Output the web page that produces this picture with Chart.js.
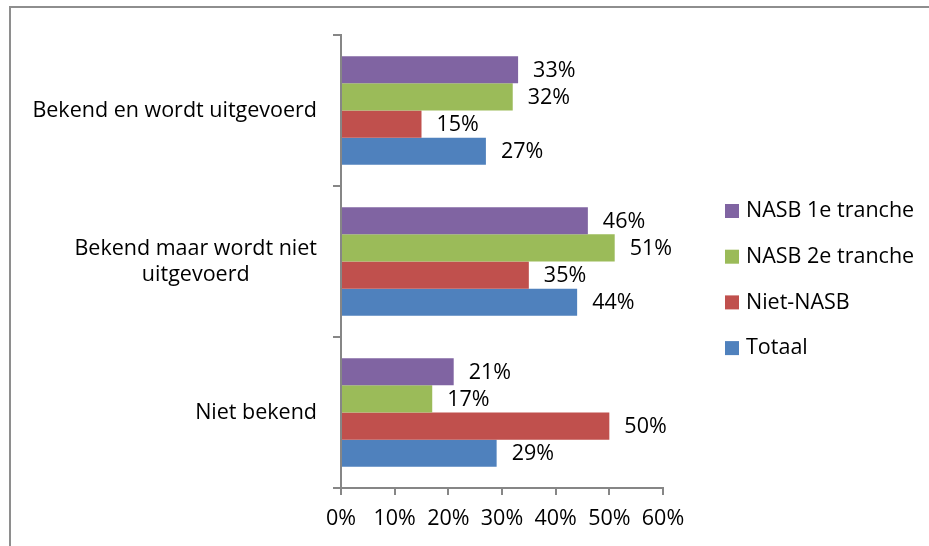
<!DOCTYPE html>
<html>
<head>
<meta charset="utf-8">
<script src="https://cdn.jsdelivr.net/npm/chart.js@4/dist/chart.umd.min.js"></script>
<style>
html,body{margin:0;padding:0;background:#fff;}
#wrap{width:929px;height:546px;position:relative;}
</style>
</head>
<body>
<div id="wrap"><canvas id="c" width="929" height="546"></canvas></div>
<script>
// ---- data ----
const categories = [["Bekend en wordt uitgevoerd"], ["Bekend maar wordt niet", "uitgevoerd"], ["Niet bekend"]];
const seriesNames = ["NASB 1e tranche", "NASB 2e tranche", "Niet-NASB", "Totaal"];
const nasb1 = [33, 46, 21];
const nasb2 = [32, 51, 17];
const nietNasb = [15, 35, 50];
const totaal = [27, 44, 29];
const xTickValues = [0, 10, 20, 30, 40, 50, 60];

// ---- styles ----
const seriesColors = ['#8064A2', '#9BBB59', '#C0504D', '#4F81BD'];
const FONT = {family: "'Open Sans', sans-serif", size: 21.5};
const FONT_CSS = "21.5px 'Open Sans', sans-serif";
const AXIS_COLOR = '#868686';

const frameCol = '#8e8e8e';

const framePlugin = {
  id: 'frame',
  beforeDraw(chart) {
    const ctx = chart.ctx;
    ctx.save();
    ctx.fillStyle = '#fff';
    ctx.fillRect(0, 0, chart.width, chart.height);
    ctx.strokeStyle = frameCol;
    ctx.lineWidth = 2;
    ctx.strokeRect(10, 7, 2000, 2000);
    ctx.restore();
  }
};

const valueLabelPlugin = {
  id: 'valueLabels',
  afterDatasetsDraw(chart) {
    const ctx = chart.ctx;
    ctx.save();
    ctx.font = FONT_CSS;
    ctx.fillStyle = '#000';
    ctx.textAlign = 'left';
    ctx.textBaseline = 'middle';
    chart.data.datasets.forEach((ds, i) => {
      chart.getDatasetMeta(i).data.forEach((bar, j) => {
        ctx.fillText(ds.data[j] + '%', bar.x + 15, bar.y + 1);
      });
    });
    ctx.restore();
  }
};

const catLabelPlugin = {
  id: 'catLabels',
  afterDraw(chart) {
    const ctx = chart.ctx;
    const ys = chart.scales.y;
    ctx.save();
    ctx.font = FONT_CSS;
    ctx.fillStyle = '#000';
    ctx.textAlign = 'center';
    ctx.textBaseline = 'middle';
    const right = ys.right - 8 - 16;
    categories.forEach((lines, i) => {
      const yc = ys.getPixelForTick(i);
      const maxW = Math.max(...lines.map(l => ctx.measureText(l).width));
      const cx = right - maxW / 2;
      lines.forEach((l, k) => {
        ctx.fillText(l, cx, yc + (k - (lines.length - 1) / 2) * 26);
      });
    });
    ctx.restore();
  }
};

const legendPlugin = {
  id: 'customLegend',
  afterDraw(chart) {
    const ctx = chart.ctx;
    ctx.save();
    ctx.font = FONT_CSS;
    ctx.textAlign = 'left';
    ctx.textBaseline = 'middle';
    const x0 = chart.chartArea.right + 62;
    const y0 = 211;
    chart.data.datasets.forEach((ds, i) => {
      const y = y0 + i * 45.7;
      ctx.fillStyle = ds.backgroundColor;
      ctx.fillRect(x0, y - 7, 14, 14);
      ctx.fillStyle = '#000';
      ctx.fillText(ds.label, x0 + 21, y);
    });
    ctx.restore();
  }
};

const seriesData = [nasb1, nasb2, nietNasb, totaal];

new Chart(document.getElementById('c'), {
  type: 'bar',
  data: {
    labels: categories,
    datasets: seriesNames.map((name, i) => ({
      label: name,
      data: seriesData[i],
      backgroundColor: seriesColors[i],
      borderWidth: 0,
      categoryPercentage: 0.72,
      barPercentage: 1.0
    }))
  },
  options: {
    indexAxis: 'y',
    responsive: false,
    animation: false,
    layout: {padding: {left: 0, top: 35, right: 266, bottom: 0}},
    plugins: {
      legend: {display: false},
      tooltip: {enabled: false}
    },
    scales: {
      x: {
        min: 0,
        max: 60,
        afterBuildTicks: s => { s.ticks = xTickValues.map(v => ({value: v})); },
        afterFit: s => { s.height = 58; },
        ticks: {
          callback: v => v + '%',
          color: '#000',
          font: FONT,
          padding: 11,
          maxRotation: 0
        },
        grid: {drawOnChartArea: false, tickLength: 7, color: AXIS_COLOR, lineWidth: 2},
        border: {color: AXIS_COLOR, width: 2}
      },
      y: {
        afterFit: s => { s.width = 341; },
        ticks: {color: 'rgba(0,0,0,0)', font: FONT, padding: 16},
        grid: {drawOnChartArea: false, tickLength: 8, color: AXIS_COLOR, lineWidth: 2, offset: true},
        border: {color: AXIS_COLOR, width: 2}
      }
    }
  },
  plugins: [framePlugin, valueLabelPlugin, catLabelPlugin, legendPlugin]
});
</script>
</body>
</html>
